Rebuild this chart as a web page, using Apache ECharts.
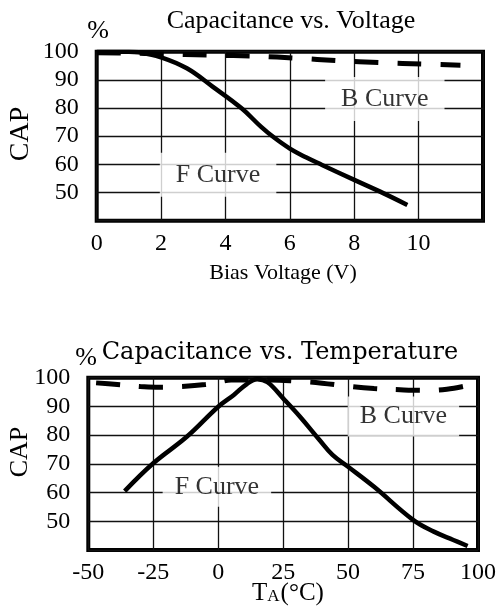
<!DOCTYPE html>
<html>
<head>
<meta charset="utf-8">
<script src="https://cdn.jsdelivr.net/npm/echarts@6/dist/echarts.min.js"></script>
<style>
  html, body { margin: 0; padding: 0; background: #fff; }
  #chart { width: 499px; height: 612px; }
</style>
</head>
<body>
<div id="chart"></div>
<script>
// Capacitance vs. bias voltage (V -> % of nominal)
const voltFX = [0, 1, 1.3, 2, 2.8, 3.6, 4.5, 5.1, 5.5, 6, 6.5, 7, 8, 8.9, 9.65];
const voltF  = [100, 100, 99.8, 98, 94.1, 87.6, 79.9, 73.4, 69.6, 65.6, 62.5, 59.8, 54.5, 49.8, 45.6];
const voltBX = [0, 1, 2, 3.5, 5, 6.2, 7.5, 8.8, 10.2, 11.3];
const voltB  = [99.6, 99.5, 99.2, 98.8, 98.4, 97.7, 96.8, 96.1, 95.6, 95.2];

// Capacitance vs. ambient temperature (°C -> % of nominal)
const tempFX = [-36, -25, -12, 0, 6, 11, 15, 19, 25, 31.5, 39, 44, 50, 60, 75, 83, 90.5, 96];
const tempF  = [60.5, 70.2, 79.5, 89.9, 94, 97.8, 99.5, 98.4, 92.8, 86.4, 78.3, 73.1, 69, 62, 50.5, 46.4, 43.5, 41.4];
const tempBX = [-47, -40, -30, -24, -15, -5, 0, 5, 20, 30, 40, 50, 60, 70, 80, 88, 96];
const tempB  = [98.2, 97.7, 96.9, 96.7, 96.9, 97.6, 98.5, 99.2, 99.2, 98.8, 98.1, 97.0, 96.2, 95.8, 95.6, 96.0, 97.3];

// Axis ranges and tick steps
const voltTicks = { min: 0, max: 12, interval: 2 };
const tempTicks = { min: -50, max: 100, interval: 25 };
const capTicks  = { min: 40, max: 100, interval: 10 };

// Curve name tags: [x, y, text] in data units
const voltTags = [[3.77, 56.3, 'F Curve'], [8.95, 83.2, 'B Curve']];
const tempTags = [[-0.5, 62, 'F Curve'], [71.3, 86.5, 'B Curve']];

const zip = (xs, ys) => xs.map((x, i) => [x, ys[i]]);

const SERIF = '"Liberation Serif", "Times New Roman", serif';
const SLAB = '"DejaVu Serif", serif';

const chart = echarts.init(document.getElementById('chart'), null, { renderer: 'canvas' });

const gridStyle = { show: true, borderColor: '#000', borderWidth: 4, backgroundColor: 'transparent' };

function xAxisFor(gridIndex, ticks, showMax) {
  return {
    type: 'value', gridIndex, min: ticks.min, max: ticks.max, interval: ticks.interval,
    axisLine: { show: false }, axisTick: { show: false },
    axisLabel: { show: true, margin: 11, color: '#000', fontFamily: SERIF, fontSize: 24, showMaxLabel: showMax },
    splitLine: { show: true, lineStyle: { color: '#111', width: 1.3 } }
  };
}
function yAxisFor(gridIndex) {
  return {
    type: 'value', gridIndex, min: capTicks.min, max: capTicks.max, interval: capTicks.interval,
    axisLine: { show: false }, axisTick: { show: false },
    axisLabel: { show: true, margin: 18, color: '#000', fontFamily: SERIF, fontSize: 24, showMinLabel: false },
    splitLine: { show: true, lineStyle: { color: '#111', width: 1.3 } }
  };
}

function solid(xi, yi, data) {
  return {
    type: 'line', xAxisIndex: xi, yAxisIndex: yi, data, smooth: 0.4,
    symbol: 'none', silent: true,
    lineStyle: { color: '#000', width: 4.5, cap: 'butt', join: 'round' }
  };
}
function dashed(xi, yi, data) {
  return {
    type: 'line', xAxisIndex: xi, yAxisIndex: yi, data, smooth: 0.4,
    symbol: 'none', silent: true,
    lineStyle: { color: '#000', width: 5, type: [24, 19], cap: 'butt' }
  };
}
function tags(xi, yi, list, pad) {
  return {
    type: 'scatter', xAxisIndex: xi, yAxisIndex: yi, silent: true, z: 5,
    symbolSize: 0,
    data: list.map(t => ({ value: [t[0], t[1]], name: t[2] })),
    label: {
      show: true, position: 'inside', formatter: p => p.name,
      color: '#000', fontFamily: SERIF, fontSize: 26,
      backgroundColor: '#fff', padding: pad
    }
  };
}

const option = {
  animation: false,
  backgroundColor: '#fff',
  grid: [
    Object.assign({ left: 96.7, top: 51.7, width: 386.3, height: 169 }, gridStyle),
    Object.assign({ left: 88.3, top: 377.7, width: 390, height: 172.3 }, gridStyle)
  ],
  xAxis: [xAxisFor(0, voltTicks, false), xAxisFor(1, tempTicks, true)],
  yAxis: [yAxisFor(0), yAxisFor(1)],
  series: [
    dashed(0, 0, zip(voltBX, voltB)),
    solid(0, 0, zip(voltFX, voltF)),
    dashed(1, 1, zip(tempBX, tempB)),
    solid(1, 1, zip(tempFX, tempF)),
    tags(0, 0, voltTags, [9, 16]),
    tags(1, 1, tempTags, [7, 12])
  ],
  graphic: [
    { type: 'text', x: 291, y: 21, silent: true,
      style: { text: 'Capacitance vs. Voltage', font: '26px ' + SERIF, fill: '#000', align: 'center', verticalAlign: 'middle' } },
    { type: 'text', x: 98, y: 31, silent: true,
      style: { text: '%', font: '26px ' + SERIF, fill: '#000', align: 'center', verticalAlign: 'middle' } },
    { type: 'text', x: 21, y: 134, rotation: Math.PI / 2, silent: true,
      style: { text: 'CAP', font: '28px ' + SERIF, fill: '#000', align: 'center', verticalAlign: 'middle' } },
    { type: 'text', x: 283, y: 273, silent: true,
      style: { text: 'Bias Voltage (V)', font: '22px ' + SERIF, fill: '#000', align: 'center', verticalAlign: 'middle' } },

    { type: 'text', x: 280, y: 353, silent: true,
      style: { text: 'Capacitance vs. Temperature', font: '24px ' + SLAB, fill: '#000', align: 'center', verticalAlign: 'middle' } },
    { type: 'text', x: 86, y: 358, silent: true,
      style: { text: '%', font: '26px ' + SERIF, fill: '#000', align: 'center', verticalAlign: 'middle' } },
    { type: 'text', x: 20, y: 452, rotation: Math.PI / 2, silent: true,
      style: { text: 'CAP', font: '26px ' + SERIF, fill: '#000', align: 'center', verticalAlign: 'middle' } },
    { type: 'text', x: 288, y: 593, silent: true,
      style: {
        text: '{t|T}{a|A}{t|(°C)}', fill: '#000', align: 'center', verticalAlign: 'middle',
        rich: {
          t: { fontFamily: SERIF, fontSize: 25, verticalAlign: 'bottom' },
          a: { fontFamily: SERIF, fontSize: 17, verticalAlign: 'bottom', padding: [0, 1, 0, 0] }
        }
      } }
  ]
};

chart.setOption(option);
</script>
</body>
</html>
